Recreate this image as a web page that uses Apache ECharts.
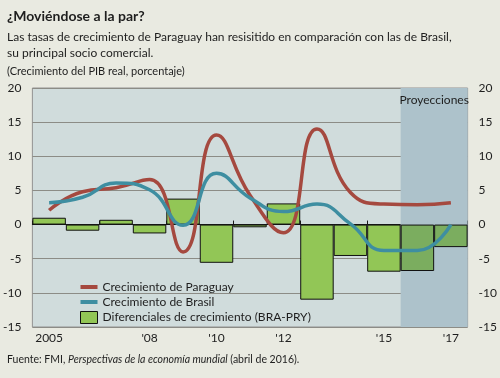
<!DOCTYPE html>
<html>
<head>
<meta charset="utf-8">
<script src="https://cdn.jsdelivr.net/npm/echarts@6/dist/echarts.min.js"></script>
<style>
html,body{margin:0;padding:0;background:#e9eae1;}
#c{width:500px;height:378px;}
</style>
</head>
<body>
<div id="c"></div>
<script>
var categories = ['2005','2006','2007','2008','2009','2010','2011','2012','2013','2014','2015','2016','2017'];
var tickLabels = ['2005','','',"'08",'',"'10",'',"'12",'','',"'15",'',"'17"];
var paraguay = [2.1, 4.8, 5.4, 6.6, -4.0, 13.1, 4.3, -1.2, 14.0, 4.7, 3.0, 2.9, 3.2];
var brasil = [3.2, 4.0, 6.1, 5.1, -0.1, 7.5, 3.9, 1.9, 3.0, 0.1, -3.8, -3.8, 0.0];
var diferencial = [1.0, -0.9, 0.7, -1.3, 3.8, -5.6, -0.4, 3.1, -11.0, -4.6, -6.9, -6.8, -3.3];
var yTicks = { min: -15, max: 20, interval: 5 };
var projectionStart = '2016';

var FONT = 'Lato';
var TXT = '#1e1e1e';
var projIdx = categories.indexOf(projectionStart);
var LINE_ICON = 'path://M0,0M17,12M0,4L17,4L17,8L0,8Z';

var chart = echarts.init(document.getElementById('c'), null, {renderer: 'canvas'});
chart.setOption({
  backgroundColor: '#e9eae1',
  animation: false,
  textStyle: { fontFamily: FONT, color: TXT },
  title: [
    { text: '¿Moviéndose a la par?', left: 7, top: 9, padding: 0,
      textStyle: { fontFamily: FONT, fontSize: 14, fontWeight: 'bold', color: TXT } },
    { text: 'Las tasas de crecimiento de Paraguay han resisitido en comparación con las de Brasil,\nsu principal socio comercial.',
      left: 7, top: 29, padding: 0,
      textStyle: { fontFamily: FONT, fontSize: 12, fontWeight: 'normal', color: TXT, lineHeight: 16 } },
    { text: '(Crecimiento del PIB real, porcentaje)', left: 7, top: 66, padding: 0,
      textStyle: { fontFamily: FONT, fontSize: 11, fontWeight: 'normal', color: TXT } },
    { text: 'Fuente: FMI, {i|Perspectivas de la economía mundial} (abril de 2016).', left: 7, top: 354, padding: 0,
      textStyle: { fontFamily: FONT, fontSize: 10.5, fontWeight: 'normal', color: TXT,
        rich: { i: { fontFamily: FONT, fontSize: 10.5, fontStyle: 'italic', color: TXT } } } }
  ],
  legend: {
    orient: 'vertical', left: 75, top: 276, itemWidth: 17, itemHeight: 12, itemGap: 3,
    textStyle: { fontFamily: FONT, fontSize: 12, color: TXT },
    data: [
      { name: 'Crecimiento de Paraguay', icon: LINE_ICON, itemStyle: { color: '#a5493f', borderWidth: 0 } },
      { name: 'Crecimiento de Brasil', icon: LINE_ICON, itemStyle: { color: '#3e8ea1', borderWidth: 0 } },
      { name: 'Diferenciales de crecimiento (BRA-PRY)', icon: 'rect', itemStyle: { color: '#92c656', borderColor: '#111', borderWidth: 1 } }
    ]
  },
  grid: {
    left: 31, right: 32, top: 88, bottom: 51,
    show: true, backgroundColor: '#d0dcdc', borderColor: '#929292', borderWidth: 1
  },
  xAxis: [
    { type: 'category', data: categories, position: 'bottom',
      axisLine: { onZero: true, lineStyle: { color: '#1a1a1a', width: 1 } },
      axisTick: { show: true, inside: true, length: 4, lineStyle: { color: '#1a1a1a' } },
      axisLabel: { show: false }, splitLine: { show: false } },
    { type: 'category', data: tickLabels, position: 'bottom',
      axisLine: { show: false, onZero: false }, axisTick: { show: false },
      axisLabel: { show: true, interval: 0, margin: 5, fontFamily: FONT, fontSize: 12, color: TXT } },
    { type: 'value', min: 0, max: categories.length, show: false }
  ],
  yAxis: [
    { type: 'value', min: yTicks.min, max: yTicks.max, interval: yTicks.interval, position: 'left',
      axisLine: { show: false }, axisTick: { show: false },
      axisLabel: { margin: 11, fontFamily: FONT, fontSize: 12, color: TXT },
      splitLine: { show: true, lineStyle: { color: '#8c8c86', width: 1 } } },
    { type: 'value', min: yTicks.min, max: yTicks.max, interval: yTicks.interval, position: 'right',
      axisLine: { show: false }, axisTick: { show: false },
      axisLabel: { margin: 11, fontFamily: FONT, fontSize: 12, color: TXT },
      splitLine: { show: false } }
  ],
  series: [
    { name: 'proj', type: 'line', xAxisIndex: 2, yAxisIndex: 0, data: [], z: 1, silent: true,
      markArea: { silent: true,
        itemStyle: { color: '#adc2cb' },
        label: { show: true, position: 'insideTop', distance: 6, fontFamily: FONT, fontSize: 12, color: TXT },
        data: [[{ name: 'Proyecciones', xAxis: projIdx }, { xAxis: categories.length }]] } },
    { name: 'Diferenciales de crecimiento (BRA-PRY)', type: 'bar', data: diferencial, z: 2,
      barWidth: '100%', barCategoryGap: '0%',
      itemStyle: {
        color: function (p) { return p.dataIndex >= projIdx ? '#7bad5f' : '#92c656'; },
        borderColor: '#111', borderWidth: 1
      } },
    { name: 'Crecimiento de Paraguay', type: 'line', data: paraguay, smooth: 0.5, symbol: 'none', z: 4,
      lineStyle: { color: '#a5493f', width: 3.5 }, itemStyle: { color: '#a5493f' } },
    { name: 'Crecimiento de Brasil', type: 'line', data: brasil, smooth: 0.5, symbol: 'none', z: 5,
      lineStyle: { color: '#3e8ea1', width: 3.5 }, itemStyle: { color: '#3e8ea1' } }
  ]
});
</script>
</body>
</html>
